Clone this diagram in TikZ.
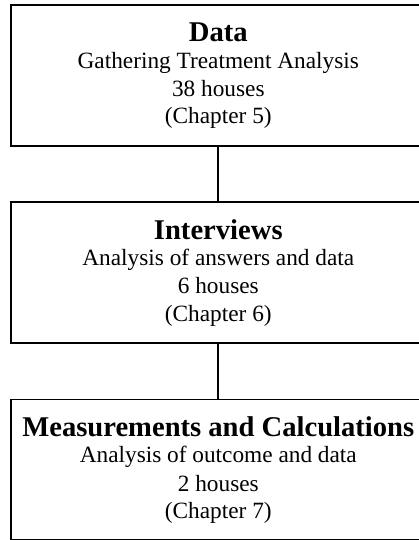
\documentclass[tikz,border=0pt]{standalone}
\usepackage{fontspec}
\setmainfont{Liberation Serif}
\begin{document}
\begin{tikzpicture}[x=1pt,y=-1pt,
  box/.style={draw=black,line width=1.7pt,fill=none,minimum width=414.6pt,minimum height=140.7pt,inner sep=0pt,outer sep=0pt},
  title/.style={anchor=base,inner sep=0pt,font=\fontsize{28.6}{34}\selectfont\bfseries},
  body/.style={anchor=base,inner sep=0pt,font=\fontsize{23.3}{28}\selectfont},
  link/.style={draw=black,line width=1.7pt}]
\useasboundingbox (0,0) rectangle (419,540);
\clip (0,0) rectangle (419,540);
\fill[white] (0,0) rectangle (419,540);
% boxes
\node[box] (b1) at (218.3,75.35) {};
\node[box] (b2) at (218.3,272.65) {};
\node[box] (b3) at (218.3,469.95) {};
% connectors
\draw[link] (b1.south) -- (b2.north);
\draw[link] (b2.south) -- (b3.north);
% box 1 text
\node[title] (t1) at (218.3,41.7) {Data};
\node[body] (t1a) at (218.3,68.3) {Gathering Treatment Analysis};
\node[body] (t1b) at (218.3,96.4) {38 houses};
\node[body] (t1c) at (218.3,124) {(Chapter 5)};
% box 2 text
\node[title] (t2) at (218.3,239) {Interviews};
\node[body] (t2a) at (218.3,265.6) {Analysis of answers and data};
\node[body] (t2b) at (218.3,293.7) {6 houses};
\node[body] (t2c) at (218.3,321.3) {(Chapter 6)};
% box 3 text
\node[title] (t3) at (218.3,436.3) {Measurements and Calculations};
\node[body] (t3a) at (218.3,462.9) {Analysis of outcome and data};
\node[body] (t3b) at (218.3,491) {2 houses};
\node[body] (t3c) at (218.3,518.6) {(Chapter 7)};
\end{tikzpicture}
\end{document}
